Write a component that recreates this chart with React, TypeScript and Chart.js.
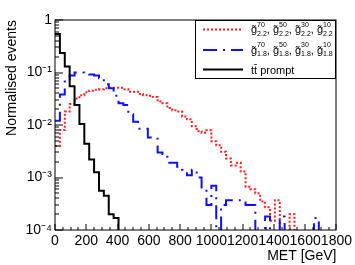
import React, { useEffect, useRef } from 'react';
import { Chart, registerables } from 'chart.js';

Chart.register(...registerables);

// ---------------- data ----------------
const BIN_WIDTH = 31.25; // GeV per histogram bin
const X_MIN = 0;
const X_MAX = 1800;
const Y_MIN = 1e-4;
const Y_MAX = 1;
const EMPTY_BIN_FLOOR = 3e-5; // empty bins are drawn down past the axis (as ROOT does)

const X_TICK_VALUES = [0, 200, 400, 600, 800, 1000, 1200, 1400, 1600, 1800];
const X_TICK_LABELS = ['0', '200', '400', '600', '800', '1000', '1200', '1400', '1600', '1800'];
const Y_TICK_VALUES = [1e-4, 1e-3, 1e-2, 1e-1, 1];
const Y_TICK_LABELS = ['10\u207B\u2074', '10\u207B\u00B3', '10\u207B\u00B2', '10\u207B\u00B9', '1'];

// gluino, m = 2.2 TeV (red dotted)
const gluino22 = [
  0.004, 0.008, 0.018, 0.025, 0.032, 0.037, 0.042, 0.045, 0.047, 0.048,
  0.050, 0.051, 0.051, 0.051, 0.048, 0.043, 0.043, 0.039, 0.037, 0.036,
  0.034, 0.028, 0.026, 0.021, 0.019, 0.018, 0.0145, 0.0128, 0.0095, 0.0076,
  0.0071, 0.0079, 0.0049, 0.0041, 0.0031, 0.0023, 0.0017, 0.0019, 0.0013, 0.00067,
  0.0006, 0.0005, 0.00035, 0.00027, 0.00015, 0.00037, 0, 0, 0.0002, 0,
];

// gluino, m = 1.8 TeV (blue dash-dot)
const gluino18 = [
  0.012, 0.038, 0.075, 0.088, 0.1, 0.1, 0.097, 0.092, 0.088, 0.078,
  0.06, 0.05, 0.036, 0.026, 0.024, 0.016, 0.0115, 0.0085, 0.0085, 0.0058,
  0.0055, 0.003, 0.0028, 0.0019, 0.0019, 0.0016, 0.0014, 0.0011, 0.0014, 0.001,
  0.0006, 0.0003, 0.0007, 0, 0.0003, 0.00037, 0.00037, 0.00037, 0.00037, 0.0003,
  0.0003, 0, 0, 0.00018, 0, 0, 0.00018, 0, 0, 0,
  0, 0, 0, 0.00017, 0,
];

// ttbar prompt (black solid)
const ttbarPrompt = [
  0.54, 0.235, 0.13, 0.055, 0.024, 0.0104, 0.0044, 0.0022, 0.00126, 0.00056,
  0.00045, 0.0002, 0.00017, 0,
];

const RED = '#ff2020';
const BLUE = '#1010ff';
const BLACK = '#000000';
const RED_DASH = [2, 2];
const BLUE_DASH = [14, 6, 2, 6];
const FONT = "'Liberation Sans', Arial, Helvetica, sans-serif";

function toSteps(values: number[]) {
  const pts = values.map((v, k) => ({ x: k * BIN_WIDTH, y: v > 0 ? v : EMPTY_BIN_FLOOR }));
  pts.push({ x: values.length * BIN_WIDTH, y: EMPTY_BIN_FLOOR });
  return pts;
}

// ---------------- plugins ----------------
const frameTicksPlugin = {
  id: 'rootFrame',
  afterDatasetsDraw(chart: any) {
    const { ctx, chartArea } = chart;
    const xs = chart.scales.x;
    const ys = chart.scales.y;
    const L = Math.round(chartArea.left);
    const R = Math.round(chartArea.right);
    const T = Math.round(chartArea.top);
    const B = Math.round(chartArea.bottom);
    ctx.save();
    ctx.strokeStyle = '#000';
    ctx.lineWidth = 1;
    ctx.setLineDash([]);
    ctx.strokeRect(L, T, R - L, B - T);
    ctx.beginPath();
    // x ticks (major every 200, minor every 50)
    for (let v = X_MIN; v <= X_MAX; v += 50) {
      const px = Math.round(xs.getPixelForValue(v));
      const len = v % 200 === 0 ? 6 : 3;
      ctx.moveTo(px, B);
      ctx.lineTo(px, B - len);
    }
    // y ticks (log decades with minor ticks 2..9)
    for (let d = -4; d <= 0; d++) {
      for (let m = 1; m <= 9; m++) {
        const v = m * Math.pow(10, d);
        if (v > Y_MAX * 1.0001) break;
        const py = Math.round(ys.getPixelForValue(v));
        const len = m === 1 ? 8 : 4;
        ctx.moveTo(L, py);
        ctx.lineTo(L + len, py);
      }
    }
    ctx.stroke();
    ctx.restore();
  },
};

const legendPlugin = {
  id: 'rootLegend',
  afterDraw(chart: any) {
    const { ctx, chartArea } = chart;
    const R = Math.round(chartArea.right);
    const T = Math.round(chartArea.top);
    const L = R - 141;
    const Bt = T + 59;
    ctx.save();
    ctx.fillStyle = '#fff';
    ctx.fillRect(L, T, R - L, Bt - T);
    ctx.strokeStyle = '#000';
    ctx.lineWidth = 1;
    ctx.setLineDash([]);
    ctx.strokeRect(L + 0.5, T + 0.5, R - L - 1, Bt - T - 1);

    const rows = [
      { color: RED, dash: RED_DASH, sub: '2.2', y: T + 9.5 },
      { color: BLUE, dash: BLUE_DASH, sub: '1.8', y: T + 30 },
      { color: BLACK, dash: [] as number[], sub: '', y: T + 49.5 },
    ];
    const sampleX0 = L + 8;
    const sampleX1 = L + 48;
    const textX = L + 56;
    rows.forEach((r, i) => {
      ctx.beginPath();
      ctx.strokeStyle = r.color;
      ctx.lineWidth = 2;
      ctx.setLineDash(r.dash);
      ctx.moveTo(sampleX0, r.y);
      ctx.lineTo(sampleX1, r.y);
      ctx.stroke();
      ctx.setLineDash([]);
      ctx.fillStyle = '#000';
      ctx.textBaseline = 'alphabetic';
      ctx.textAlign = 'left';
      if (i < 2) {
        let x = textX;
        const sups = ['70', '50', '30', '10'];
        sups.forEach((s, j) => {
          ctx.font = `11px ${FONT}`;
          const g = 'g\u0303';
          ctx.fillText(g, x, r.y + 3.5);
          x += ctx.measureText('g').width;
          ctx.font = `7px ${FONT}`;
          ctx.fillText(s, x, r.y - 3);
          const ws = ctx.measureText(s).width;
          ctx.fillText(r.sub, x, r.y + 6);
          const wb = ctx.measureText(r.sub).width;
          x += Math.max(ws, wb);
          if (j < sups.length - 1) {
            ctx.font = `11px ${FONT}`;
            ctx.fillText(', ', x, r.y + 3.5);
            x += ctx.measureText(', ').width;
          }
        });
      } else {
        ctx.font = `11px ${FONT}`;
        ctx.fillText('tt\u0304 prompt', textX, r.y + 4);
      }
    });
    ctx.restore();
  },
};

// ---------------- component ----------------
export default function App() {
  const canvasRef = useRef<HTMLCanvasElement | null>(null);

  useEffect(() => {
    if (!canvasRef.current) return;
    const chart = new Chart(canvasRef.current, {
      type: 'line',
      data: {
        datasets: [
          {
            label: 'tt\u0304 prompt',
            data: toSteps(ttbarPrompt),
            borderColor: BLACK,
            borderWidth: 2,
            stepped: 'before',
            pointRadius: 0,
            fill: false,
            clip: 0,
            order: 0,
          },
          {
            label: 'g\u0303 1.8',
            data: toSteps(gluino18),
            borderColor: BLUE,
            borderWidth: 2,
            borderDash: BLUE_DASH,
            stepped: 'before',
            pointRadius: 0,
            fill: false,
            clip: 0,
            order: 1,
          },
          {
            label: 'g\u0303 2.2',
            data: toSteps(gluino22),
            borderColor: RED,
            borderWidth: 2,
            borderDash: RED_DASH,
            stepped: 'before',
            pointRadius: 0,
            fill: false,
            clip: 0,
            order: 2,
          },
        ],
      },
      options: {
        responsive: false,
        devicePixelRatio: 1,
        animation: false,
        parsing: false,
        normalized: true,
        layout: { padding: { left: 0, right: 16, top: 20, bottom: 0 } },
        plugins: { legend: { display: false }, tooltip: { enabled: false } },
        scales: {
          x: {
            type: 'linear',
            min: X_MIN,
            max: X_MAX,
            afterBuildTicks: (s: any) => {
              s.ticks = X_TICK_VALUES.map((v) => ({ value: v }));
            },
            afterFit: (s: any) => {
              s.height = 35;
            },
            ticks: {
              autoSkip: false,
              maxRotation: 0,
              minRotation: 0,
              padding: 3,
              color: '#000',
              font: { family: FONT, size: 14 },
              callback: (v: any) => {
                const i = X_TICK_VALUES.indexOf(Number(v));
                return i >= 0 ? X_TICK_LABELS[i] : '';
              },
            },
            grid: { display: false, drawTicks: false },
            border: { display: false },
            title: {
              display: true,
              text: 'MET [GeV]',
              align: 'end',
              color: '#000',
              font: { family: FONT, size: 14 },
              padding: { top: 0, bottom: 0 },
            },
          },
          y: {
            type: 'logarithmic',
            min: Y_MIN,
            max: Y_MAX,
            afterBuildTicks: (s: any) => {
              s.ticks = Y_TICK_VALUES.map((v) => ({ value: v }));
            },
            afterFit: (s: any) => {
              s.width = 55;
            },
            ticks: {
              autoSkip: false,
              padding: 3,
              color: '#000',
              font: { family: FONT, size: 14 },
              callback: (v: any) => {
                const i = Y_TICK_VALUES.findIndex((t) => Math.abs(t - Number(v)) < t * 1e-6);
                return i >= 0 ? Y_TICK_LABELS[i] : '';
              },
            },
            grid: { display: false, drawTicks: false },
            border: { display: false },
            title: {
              display: true,
              text: 'Normalised events',
              align: 'end',
              color: '#000',
              font: { family: FONT, size: 14 },
              padding: { top: 4, bottom: 0 },
            },
          },
        },
      },
      plugins: [frameTicksPlugin, legendPlugin],
    } as any);
    return () => chart.destroy();
  }, []);

  return (
    <div style={{ position: 'absolute', left: 0, top: 0, width: 355, height: 265, background: '#fff' }}>
      <canvas ref={canvasRef} width={355} height={265} style={{ display: 'block' }} />
    </div>
  );
}
